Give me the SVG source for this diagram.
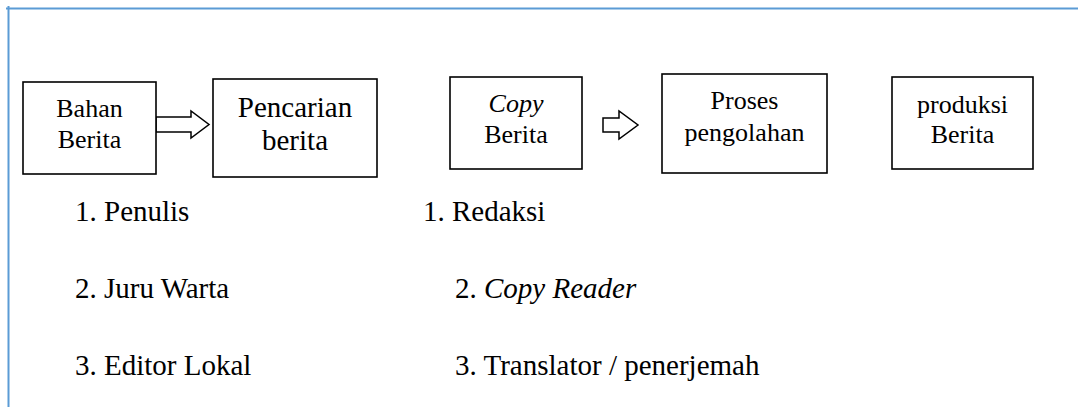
<svg xmlns="http://www.w3.org/2000/svg" width="1078" height="407" viewBox="0 0 1078 407">
<style>
.frame{stroke:#5B9BD5;stroke-width:2;fill:none}
.box{fill:#fff;stroke:#000;stroke-width:1.6}
.arr{fill:#fff;stroke:#000;stroke-width:1.5;stroke-linejoin:miter}
text{fill:#000;font-family:"Liberation Serif","Times New Roman",serif}
.c{text-anchor:middle}
.s26{font-size:26px}
.s29{font-size:29px}
</style>
<g id="frame">
<line class="frame" x1="6" y1="8.5" x2="1078" y2="8.5"/>
<line class="frame" x1="8.5" y1="6" x2="8.5" y2="407"/>
</g>
<g id="connectors">
<path class="arr" d="M156,117 H191 V111 L209,124.5 L191,138 V132 H156 Z"/>
<path class="arr" d="M603,118 H619 V111 L638,125 L619,139 V132 H603 Z"/>
</g>
<g id="bahan-berita">
<rect class="box" x="23" y="82" width="133" height="92"/>
<text class="c s26" x="89.5" y="117">Bahan</text>
<text class="c s26" x="89.5" y="148">Berita</text>
</g>
<g id="pencarian-berita">
<rect class="box" x="213" y="79" width="164" height="98"/>
<text class="c s29" x="295" y="117">Pencarian</text>
<text class="c s29" x="295" y="150">berita</text>
</g>
<g id="copy-berita">
<rect class="box" x="450" y="77" width="132" height="92"/>
<text class="c s26" x="516" y="112" font-style="italic">Copy</text>
<text class="c s26" x="516" y="143">Berita</text>
</g>
<g id="proses-pengolahan">
<rect class="box" x="662" y="74" width="165" height="99"/>
<text class="c s26" x="744.5" y="109">Proses</text>
<text class="c s26" x="744.5" y="141">pengolahan</text>
</g>
<g id="produksi-berita">
<rect class="box" x="892" y="77" width="141" height="92"/>
<text class="c s26" x="962.5" y="113">produksi</text>
<text class="c s26" x="962.5" y="143">Berita</text>
</g>
<g id="list-left">
<text class="s29" x="75" y="221">1. Penulis</text>
<text class="s29" x="75" y="298">2. Juru Warta</text>
<text class="s29" x="75" y="375">3. Editor Lokal</text>
</g>
<g id="list-right">
<text class="s29" x="423" y="221">1. Redaksi</text>
<text class="s29" x="455" y="298">2. <tspan font-style="italic">Copy Reader</tspan></text>
<text class="s29" x="455" y="375">3. Translator / penerjemah</text>
</g>
</svg>
